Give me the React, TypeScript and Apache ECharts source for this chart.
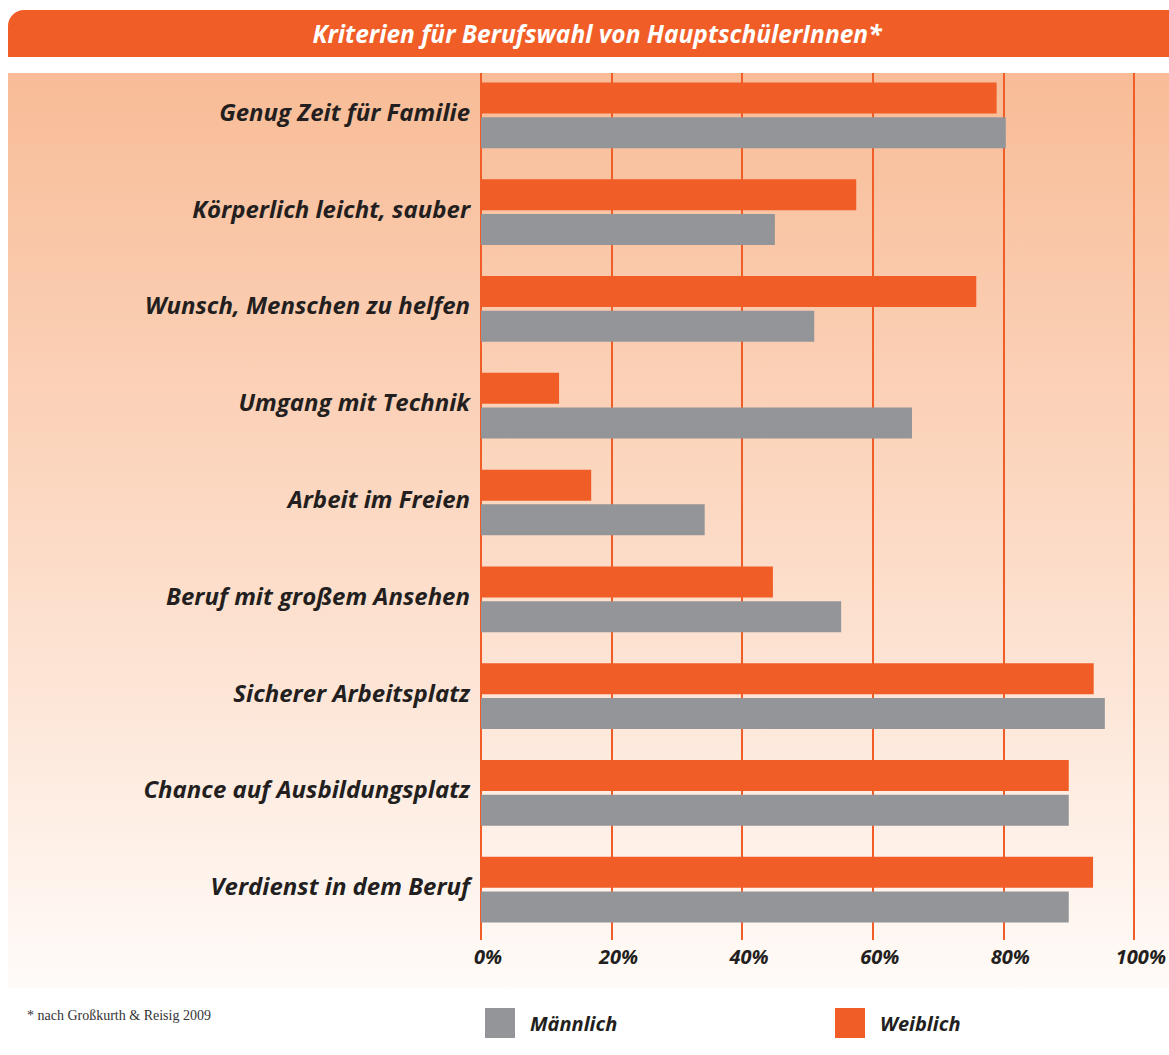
import React, { useEffect, useRef } from "react";
import * as echarts from "echarts";

const categories = [
  "Genug Zeit für Familie",
  "Körperlich leicht, sauber",
  "Wunsch, Menschen zu helfen",
  "Umgang mit Technik",
  "Arbeit im Freien",
  "Beruf mit großem Ansehen",
  "Sicherer Arbeitsplatz",
  "Chance auf Ausbildungsplatz",
  "Verdienst in dem Beruf",
];
const weiblich = [78.6, 57.2, 75.5, 11.9, 16.8, 44.5, 93.4, 89.6, 93.3];
const maennlich = [80.0, 44.8, 50.8, 65.7, 34.1, 54.9, 95.1, 89.6, 89.6];
const tickValues = [0, 20, 40, 60, 80, 100];
const titleText = "Kriterien für Berufswahl von HauptschülerInnen*";
const footnote = "* nach Großkurth & Reisig 2009";

const ORANGE = "#f15d26";
const GRAY = "#949598";
const DARK = "#231f20";
const FONT = "'Open Sans', Lato, sans-serif";

export default function App() {
  const ref = useRef<HTMLDivElement>(null);
  useEffect(() => {
    if (!ref.current) return;
    const chart = echarts.init(ref.current, null, { renderer: "svg" });
    const legendText = {
      fontFamily: FONT,
      fontSize: 20,
      fontWeight: "bold",
      fontStyle: "italic",
      color: DARK,
      padding: [0, 0, 6, 10],
    };
    chart.setOption({
      animation: false,
      backgroundColor: "#ffffff",
      graphic: [
        {
          type: "rect",
          z: -100,
          shape: { x: 8, y: 10, width: 1161, height: 47, r: [16, 0, 0, 0] },
          style: { fill: ORANGE },
        },
        {
          type: "text",
          x: 597,
          y: 33,
          style: {
            text: titleText,
            fill: "#ffffff",
            font: `italic bold 24.5px ${FONT}`,
            align: "center",
            verticalAlign: "middle",
          },
        },
        {
          type: "rect",
          z: -100,
          shape: { x: 8, y: 73, width: 1161, height: 915 },
          style: {
            fill: new echarts.graphic.LinearGradient(0, 0, 0, 1, [
              { offset: 0, color: "#f8bc97" },
              { offset: 0.5, color: "#fcdac5" },
              { offset: 1, color: "#fffbf8" },
            ]),
          },
        },
        {
          type: "text",
          x: 27,
          y: 1015,
          style: {
            text: footnote,
            fill: "#333333",
            font: "14px 'Liberation Serif', serif",
            verticalAlign: "middle",
          },
        },
      ],
      legend: [
        {
          data: ["Männlich"],
          left: 485,
          top: 1008,
          padding: 0,
          itemWidth: 30,
          itemHeight: 30,
          icon: "rect",
          textStyle: legendText,
        },
        {
          data: ["Weiblich"],
          left: 835,
          top: 1008,
          padding: 0,
          itemWidth: 30,
          itemHeight: 30,
          icon: "rect",
          textStyle: legendText,
        },
      ],
      grid: [
        { left: 481, right: 32, top: 67, height: 871 },
        { left: 481, right: 32, top: 73, bottom: 115 },
      ],
      xAxis: [
        { type: "value", gridIndex: 0, min: 0, max: 100, interval: 20, show: false },
        {
          type: "value",
          gridIndex: 1,
          min: 0,
          max: 100,
          interval: 20,
          axisLine: { show: false },
          axisTick: { show: false },
          splitLine: { show: true, lineStyle: { color: ORANGE, width: 2 } },
          axisLabel: {
            formatter: (v: number) => (tickValues.includes(v) ? `${v}%` : ""),
            fontFamily: FONT,
            fontSize: 20,
            fontWeight: "bold",
            fontStyle: "italic",
            color: DARK,
            margin: 6,
            padding: [0, 0, 0, 14],
          },
        },
      ],
      yAxis: [
        {
          type: "category",
          gridIndex: 0,
          data: categories,
          inverse: true,
          axisLine: { show: false },
          axisTick: { show: false },
          splitLine: { show: false },
          axisLabel: {
            margin: 11,
            formatter: (v: string) => `{c|${v}}`,
            rich: {
              c: {
                fontFamily: FONT,
                fontSize: 24,
                fontWeight: "bold",
                fontStyle: "italic",
                color: DARK,
                padding: [0, 0, 8, 0],
              },
            },
          },
        },
        { type: "value", gridIndex: 1, show: false, min: 0, max: 1 },
      ],
      series: [
        {
          name: "Weiblich",
          type: "bar",
          xAxisIndex: 0,
          yAxisIndex: 0,
          data: weiblich,
          barWidth: 31,
          barGap: "12%",
          itemStyle: { color: ORANGE },
        },
        {
          name: "Männlich",
          type: "bar",
          xAxisIndex: 0,
          yAxisIndex: 0,
          data: maennlich,
          barWidth: 31,
          barGap: "12%",
          itemStyle: { color: GRAY },
        },
      ],
    });
    return () => chart.dispose();
  }, []);
  return (
    <div
      ref={ref}
      style={{ position: "absolute", left: 0, top: 0, width: 1169, height: 1055 }}
    />
  );
}
